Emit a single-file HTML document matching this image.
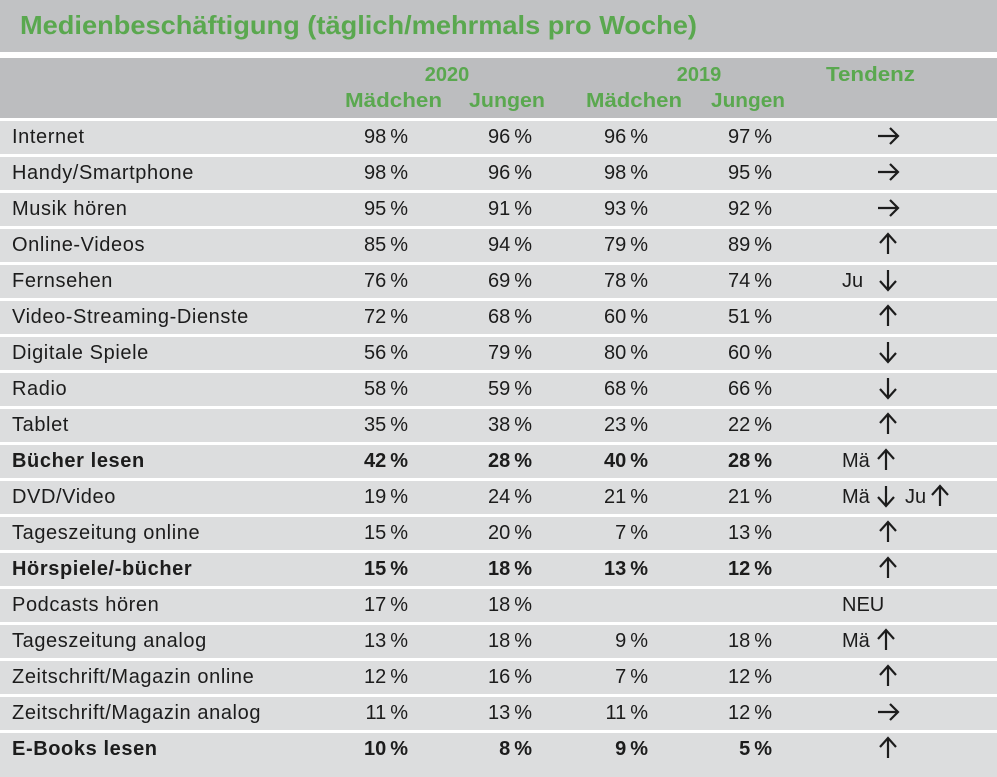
<!DOCTYPE html>
<html><head><meta charset="utf-8"><style>
html,body{margin:0;padding:0;background:#fff;width:997px;height:777px;overflow:hidden}
svg{display:block}
text{font-family:"Liberation Sans","DejaVu Sans",sans-serif;fill:#1c1c1c;font-size:20px}
.g{fill:#5aa84f;font-weight:bold}
.b{font-weight:bold}
.r{text-anchor:end}
.c{text-anchor:middle}
.l{letter-spacing:0.6px}
</style></head><body>
<svg width="997" height="777" viewBox="0 0 997 777" xmlns="http://www.w3.org/2000/svg">
<rect x="0" y="0" width="997" height="52" fill="#c1c2c4"/>
<rect x="0" y="58" width="997" height="60" fill="#bcbdbf"/>
<text x="20" y="34" class="g" style="font-size:26px" textLength="677" lengthAdjust="spacingAndGlyphs">Medienbeschäftigung (täglich/mehrmals pro Woche)</text>
<text x="447" y="81" class="g c">2020</text>
<text x="345" y="107" class="g" textLength="97" lengthAdjust="spacingAndGlyphs">Mädchen</text>
<text x="469" y="107" class="g" textLength="76" lengthAdjust="spacingAndGlyphs">Jungen</text>
<text x="699" y="81" class="g c">2019</text>
<text x="586" y="107" class="g" textLength="96" lengthAdjust="spacingAndGlyphs">Mädchen</text>
<text x="711" y="107" class="g" textLength="74" lengthAdjust="spacingAndGlyphs">Jungen</text>
<text x="826" y="81" class="g" textLength="89" lengthAdjust="spacingAndGlyphs">Tendenz</text>
<g id="rows"></g>
</svg>
<script>
var d=[
["Internet","98 %","96 %","96 %","97 %","R",0],
["Handy/Smartphone","98 %","96 %","98 %","95 %","R",0],
["Musik hören","95 %","91 %","93 %","92 %","R",0],
["Online-Videos","85 %","94 %","79 %","89 %","U",0],
["Fernsehen","76 %","69 %","78 %","74 %","JuD",0],
["Video-Streaming-Dienste","72 %","68 %","60 %","51 %","U",0],
["Digitale Spiele","56 %","79 %","80 %","60 %","D",0],
["Radio","58 %","59 %","68 %","66 %","D",0],
["Tablet","35 %","38 %","23 %","22 %","U",0],
["Bücher lesen","42 %","28 %","40 %","28 %","MaU",1],
["DVD/Video","19 %","24 %","21 %","21 %","MaDJuU",0],
["Tageszeitung online","15 %","20 %","7 %","13 %","U",0],
["Hörspiele/-bücher","15 %","18 %","13 %","12 %","U",1],
["Podcasts hören","17 %","18 %","","","NEU",0],
["Tageszeitung analog","13 %","18 %","9 %","18 %","MaU",0],
["Zeitschrift/Magazin online","12 %","16 %","7 %","12 %","U",0],
["Zeitschrift/Magazin analog","11 %","13 %","11 %","12 %","R",0],
["E-Books lesen","10 %","8 %","9 %","5 %","U",1]];
var NS="http://www.w3.org/2000/svg",g=document.getElementById("rows");
function el(n,a,t){var e=document.createElementNS(NS,n);for(var k in a)e.setAttribute(k,a[k]);if(t!=null)e.textContent=t;g.appendChild(e);return e;}
function arrow(cx,cy,dir){var p;
 if(dir=="R")p="M"+(cx-10)+" "+cy+"H"+(cx+9)+"M"+(cx+2)+" "+(cy-8)+"L"+(cx+10)+" "+cy+"L"+(cx+2)+" "+(cy+8);
 if(dir=="U")p="M"+cx+" "+(cy+10)+"V"+(cy-9)+"M"+(cx-8)+" "+(cy-1)+"L"+cx+" "+(cy-10)+"L"+(cx+8)+" "+(cy-1);
 if(dir=="D")p="M"+cx+" "+(cy-10)+"V"+(cy+9)+"M"+(cx-8)+" "+(cy+1)+"L"+cx+" "+(cy+10)+"L"+(cx+8)+" "+(cy+1);
 el("path",{d:p,stroke:"#1c1c1c","stroke-width":"2.2",fill:"none"});}
d.forEach(function(r,i){
 var top=121+36*i,h=(i==17)?777-top:33;
 el("rect",{x:0,y:top,width:997,height:h,fill:"#dcddde"});
 var by=top+22,cls=r[6]?"b":"";
 el("text",{x:12,y:by,"class":"l "+cls},r[0]);
 [408,532,648,772].forEach(function(x,j){if(r[j+1])el("text",{x:x,y:by,"class":"r "+cls},r[j+1].replace(" ","\u2009"));});
 var cy=top+15,t=r[5];
 if(t=="R"||t=="U"||t=="D")arrow(888,cy,t);
 else if(t=="JuD"){el("text",{x:842,y:by},"Ju");arrow(888,cy,"D");}
 else if(t=="MaU"){el("text",{x:842,y:by},"Mä");arrow(886,cy,"U");}
 else if(t=="MaDJuU"){el("text",{x:842,y:by},"Mä");arrow(886,cy,"D");el("text",{x:905,y:by},"Ju");arrow(940,cy,"U");}
 else if(t=="NEU"){el("text",{x:842,y:by},"NEU");}
});
</script>
</body></html>
